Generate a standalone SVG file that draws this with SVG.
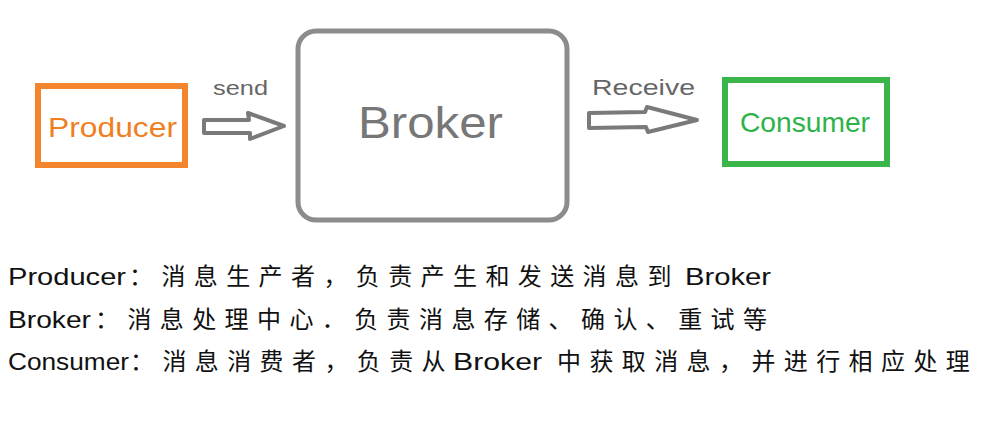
<svg xmlns="http://www.w3.org/2000/svg" width="983" height="434" viewBox="0 0 983 434">
<style>
.lbl{font-family:"Liberation Sans","Noto Sans CJK SC",sans-serif;}
.desc{font-family:"Liberation Sans","Noto Sans CJK SC",sans-serif;font-size:24px;fill:#111;}
.cjk{letter-spacing:8.4px;}
.arrow{fill:#fff;stroke:#7a7a7a;stroke-width:4;stroke-linejoin:round;}
</style>
<rect width="983" height="434" fill="#fff"/>
<g id="producer">
<rect x="38" y="86" width="147" height="79" fill="none" stroke="#f5852c" stroke-width="6"/>
<text class="lbl" x="48" y="137" font-size="28" fill="#f07f24" textLength="129" lengthAdjust="spacingAndGlyphs">Producer</text>
</g>
<g id="broker">
<rect x="298" y="31" width="269" height="189" rx="18" fill="none" stroke="#8c8c8c" stroke-width="5"/>
<text class="lbl" x="358" y="138" font-size="44" fill="#777" textLength="145" lengthAdjust="spacingAndGlyphs">Broker</text>
</g>
<g id="consumer">
<rect x="725" y="80" width="162" height="84" fill="none" stroke="#3ab54a" stroke-width="6"/>
<text class="lbl" x="740" y="132" font-size="28" fill="#2db34a" textLength="130" lengthAdjust="spacingAndGlyphs">Consumer</text>
</g>
<g id="connectors">
<polygon class="arrow" points="204,120 249,120 248,113 284,126 250,139 250,133 204,133"/>
<text class="lbl" x="213" y="95" font-size="20" fill="#666" textLength="55" lengthAdjust="spacingAndGlyphs">send</text>
<polygon class="arrow" points="589,113 645,112 647,107 697,120 648,132 646,127 589,128"/>
<text class="lbl" x="592" y="95" font-size="22" fill="#666" textLength="103" lengthAdjust="spacingAndGlyphs">Receive</text>
</g>
<g id="description">
<text class="desc" x="8" y="285" textLength="118" lengthAdjust="spacingAndGlyphs">Producer</text>
<text class="desc cjk" x="129" y="285">：消息生产者，负责产生和发送消息到</text>
<text class="desc" x="685" y="285" textLength="86" lengthAdjust="spacingAndGlyphs">Broker</text>
<text class="desc" x="8" y="328" textLength="83" lengthAdjust="spacingAndGlyphs">Broker</text>
<text class="desc cjk" x="95" y="328">：消息处理中心．负责消息存储、确认、重试等</text>
<text class="desc" x="8" y="370" textLength="121" lengthAdjust="spacingAndGlyphs">Consumer</text>
<text class="desc cjk" x="130" y="370">：消息消费者，负责从</text>
<text class="desc" x="453" y="370" textLength="89" lengthAdjust="spacingAndGlyphs">Broker</text>
<text class="desc cjk" x="557" y="370">中获取消息，并进行相应处理</text>
</g>
</svg>
